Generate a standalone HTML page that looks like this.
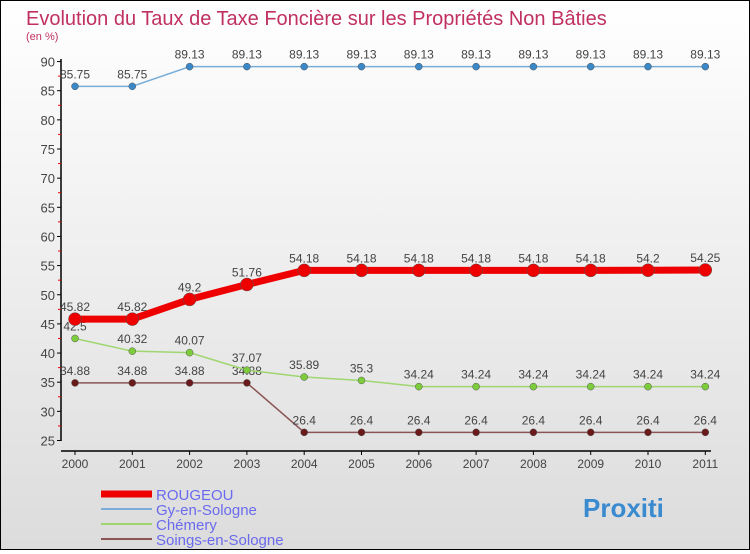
<!DOCTYPE html>
<html><head><meta charset="utf-8"><style>
body{margin:0}
#c{width:748px;height:548px;border:1px solid #000;background:linear-gradient(#fff,#dcdcdc);font-family:"Liberation Sans",sans-serif;position:relative}
</style></head><body>
<div id="c">
<svg id="s" width="748" height="548" xmlns="http://www.w3.org/2000/svg">
<text x="25" y="24" font-size="20" fill="#c03060">Evolution du Taux de Taxe Foncière sur les Propriétés Non Bâties</text>
<text x="25" y="39" font-size="11" fill="#c03060">(en %)</text>
<g id="g"></g>
</svg>
</div>
<script>
const years=["2000","2001","2002","2003","2004","2005","2006","2007","2008","2009","2010","2011"];
const rougeou=[45.82,45.82,49.2,51.76,54.18,54.18,54.18,54.18,54.18,54.18,54.2,54.25];
const gy=[85.75,85.75,89.13,89.13,89.13,89.13,89.13,89.13,89.13,89.13,89.13,89.13];
const chemery=[42.5,40.32,40.07,37.07,35.89,35.3,34.24,34.24,34.24,34.24,34.24,34.24];
const soings=[34.88,34.88,34.88,34.88,26.4,26.4,26.4,26.4,26.4,26.4,26.4,26.4];
const yTicks=[25,30,35,40,45,50,55,60,65,70,75,80,85,90];
const NS="http://www.w3.org/2000/svg";
const g=document.getElementById('g');
const X=i=>74+i*57.3, Y=v=>439.5-(v-25)*5.83;
function mk(t,a,p){const e=document.createElementNS(NS,t);for(const k in a)e.setAttribute(k,a[k]);(p||g).appendChild(e);return e;}
let ax=mk('line',{x1:60,y1:58,x2:60,y2:440,stroke:'#000','stroke-width':1.5});


let xx=mk('line',{x1:60,y1:450,x2:710,y2:450,stroke:'#000','stroke-width':1.5});


yTicks.forEach(v=>{
  mk('line',{x1:56,x2:60,y1:Y(v),y2:Y(v),stroke:'#000'});
  if(v<90)mk('line',{x1:57,x2:60,y1:Y(v+2.5),y2:Y(v+2.5),stroke:'#e00'});
  const t=mk('text',{x:54,y:Y(v)+5,'text-anchor':'end','font-size':13,fill:'#444'});t.textContent=v;
  
  
});
years.forEach((y,i)=>{
  mk('line',{x1:X(i),x2:X(i),y1:450,y2:454,stroke:'#000'});
  const t=mk('text',{x:X(i),y:467,'text-anchor':'middle','font-size':12,fill:'#444'});t.textContent=y;
  
  
});
function series(d,col,w,r,name,dot){
  const p=mk('polyline',{points:d.map((v,i)=>X(i)+','+Y(v)).join(' '),fill:'none',stroke:col,'stroke-width':w});
  
  
  d.forEach((v,i)=>{
    const c=mk('circle',{cx:X(i),cy:Y(v),r:r,fill:dot,stroke:'#555','stroke-width':0.5});
    
    
    const t=mk('text',{x:X(i),y:Y(v)-8,'text-anchor':'middle','font-size':12,fill:'#444'});t.textContent=v;
    
    
  });
}
series(gy,'#7aaed8',1.5,3.5,'gy-en-sologne','#3a88c8');
series(soings,'#8b5555',1.5,3.5,'soings-en-sologne','#6a1a1a');
series(chemery,'#9fd66f',1.5,3.5,'chemery','#7ccc3c');
series(rougeou,'#ee0000',7,6.5,'rougeou','#ee0000');
const leg=[['ROUGEOU','#ee0000',7],['Gy-en-Sologne','#7aaed8',2],['Chémery','#9fd66f',2],['Soings-en-Sologne','#8b5555',2]];
leg.forEach((l,i)=>{
  const y=493+i*15;
  const ln=mk('line',{x1:100,x2:151,y1:y,y2:y,stroke:l[1],'stroke-width':l[2]});
  
  
  const t=mk('text',{x:155,y:y+6,'font-size':15,fill:'#6a6aee'});t.textContent=l[0];
  
  
});
const lg=mk('text',{x:582,y:516,'font-size':26,'font-weight':'bold',fill:'#3a8ad0'});lg.textContent='Proxiti';


</script>
</body></html>
